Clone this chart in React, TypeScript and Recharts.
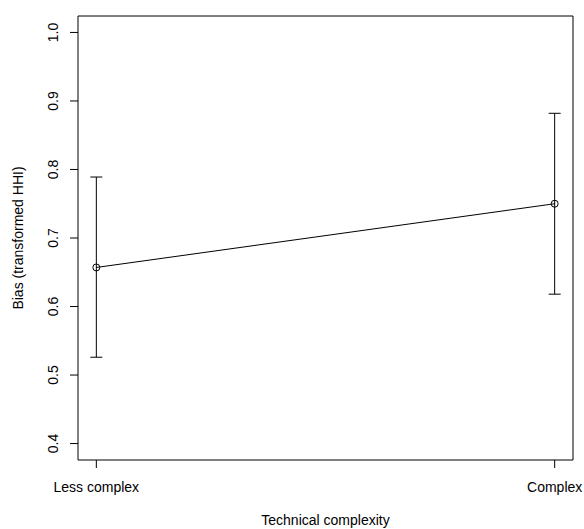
import { ComposedChart, Line, XAxis, YAxis, ErrorBar, ReferenceArea, Label } from "recharts";

const categories = ["Less complex", "Complex"];
const means = [0.657, 0.75];
const lower = [0.526, 0.618];
const upper = [0.789, 0.882];
const yTicks = [0.4, 0.5, 0.6, 0.7, 0.8, 0.9, 1.0];

const data = categories.map((name, i) => ({
  x: i + 1,
  name,
  mean: means[i],
  err: [means[i] - lower[i], upper[i] - means[i]],
}));

const FONT = "'Liberation Sans', Arial, Helvetica, sans-serif";

function YTick({ x, y, payload }: any) {
  const bx = x - 12;
  return (
    <text x={bx} y={y} transform={`rotate(-90, ${bx}, ${y})`} textAnchor="middle" fontSize={14} fill="#000" fontFamily={FONT}>
      {payload.value.toFixed(1)}
    </text>
  );
}

function XTick({ x, y, payload }: any) {
  return (
    <text x={x} y={y + 24} textAnchor="middle" fontSize={14} fill="#000" fontFamily={FONT}>
      {categories[payload.value - 1]}
    </text>
  );
}

function OpenDot({ cx, cy }: any) {
  return <circle cx={cx} cy={cy} r={3.5} fill="none" stroke="#000" strokeWidth={1} />;
}

export default function App() {
  return (
    <div style={{ position: "absolute", left: 0, top: 0, background: "#fff" }}>
      <ComposedChart width={584} height={529} data={data} margin={{ top: 16, right: 11, bottom: 0, left: 0 }}>
        <XAxis
          type="number"
          dataKey="x"
          domain={[0.96, 2.04]}
          ticks={[1, 2]}
          allowDataOverflow
          height={69}
          tickSize={8}
          tickMargin={0}
          axisLine={false}
          tickLine={{ stroke: "#000" }}
          tick={<XTick />}
        >
          <Label
            content={({ viewBox }: any) => (
              <text x={viewBox.x + viewBox.width / 2} y={viewBox.y + viewBox.height - 4} textAnchor="middle" fontSize={14} fontFamily={FONT} fill="#000">
                Technical complexity
              </text>
            )}
          />
        </XAxis>
        <YAxis
          type="number"
          domain={[0.376, 1.024]}
          ticks={yTicks}
          allowDataOverflow
          width={78}
          tickSize={8}
          tickMargin={0}
          axisLine={false}
          tickLine={{ stroke: "#000" }}
          tick={<YTick />}
        >
          <Label
            content={({ viewBox }: any) => {
              const lx = 23;
              const ly = viewBox.y + viewBox.height / 2;
              return (
                <text x={lx} y={ly} transform={`rotate(-90, ${lx}, ${ly})`} textAnchor="middle" fontSize={14} fontFamily={FONT} fill="#000">
                  Bias (transformed HHI)
                </text>
              );
            }}
          />
        </YAxis>
        <ReferenceArea x1={0.96} x2={2.04} y1={0.376} y2={1.024} fill="none" stroke="#000" strokeWidth={1} ifOverflow="visible" />
        <Line
          type="linear"
          dataKey="mean"
          stroke="#000"
          strokeWidth={1}
          dot={<OpenDot />}
          activeDot={false}
          isAnimationActive={false}
        >
          <ErrorBar dataKey="err" direction="y" width={6} stroke="#000" strokeWidth={1} isAnimationActive={false} />
        </Line>
      </ComposedChart>
    </div>
  );
}
